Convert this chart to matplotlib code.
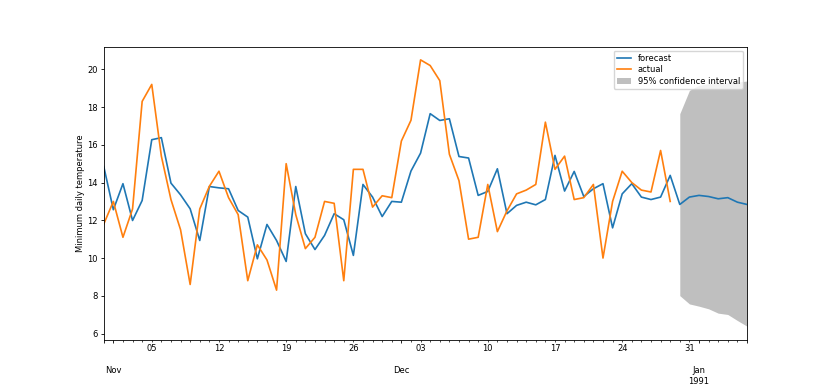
import pandas as pd
import matplotlib
matplotlib.use("Agg")
import matplotlib.pyplot as plt

# Daily minimum temperatures
start = "1990-10-31"

actual = [11.8, 13.0, 11.1, 12.6, 18.3, 19.2, 15.4, 13.1, 11.5, 8.6,
          12.6, 13.8, 14.6, 13.2, 12.3, 8.8, 10.7, 9.9, 8.3, 15.0,
          12.3, 10.5, 11.1, 13.0, 12.9, 8.8, 14.7, 14.7, 12.7, 13.3,
          13.2, 16.2, 17.3, 20.5, 20.2, 19.4, 15.5, 14.1, 11.0, 11.1,
          13.9, 11.4, 12.5, 13.4, 13.6, 13.9, 17.2, 14.7, 15.4, 13.1,
          13.2, 13.9, 10.0, 13.0, 14.6, 14.0, 13.6, 13.5, 15.7, 13.0]

forecast = [14.85, 12.56, 13.94, 11.99, 13.05, 16.27, 16.38, 13.97, 13.35, 12.61,
            10.93, 13.79, 13.72, 13.67, 12.52, 12.17, 9.96, 11.78, 10.93, 9.82,
            13.79, 11.29, 10.45, 11.20, 12.35, 12.03, 10.14, 13.90, 13.23, 12.20,
            13.00, 12.96, 14.61, 15.56, 17.65, 17.29, 17.38, 15.38, 15.30, 13.32,
            13.53, 14.73, 12.35, 12.79, 12.96, 12.82, 13.10, 15.44, 13.55, 14.59,
            13.26, 13.67, 13.94, 11.60, 13.40, 13.94, 13.23, 13.10, 13.23, 14.38,
            12.84, 13.23, 13.32, 13.26, 13.14, 13.20, 12.96, 12.84]

ci_lower = [8.01, 7.57, 7.45, 7.31, 7.08, 7.01, 6.69, 6.39]
ci_upper = [17.65, 18.88, 19.15, 19.24, 19.27, 19.29, 19.32, 19.38]

fc = pd.Series(forecast, index=pd.date_range(start, periods=len(forecast), freq="D"))
act = pd.Series(actual, index=pd.date_range(start, periods=len(actual), freq="D"))
ci_index = fc.index[-len(ci_lower):]

plt.rcParams["font.size"] = 6
plt.rcParams["axes.linewidth"] = 0.6
for ax_name in ("xtick", "ytick"):
    plt.rcParams[ax_name + ".major.size"] = 2.2
    plt.rcParams[ax_name + ".minor.size"] = 1.2
    plt.rcParams[ax_name + ".major.width"] = 0.6
    plt.rcParams[ax_name + ".minor.width"] = 0.5
    plt.rcParams[ax_name + ".major.pad"] = 2.2
    plt.rcParams[ax_name + ".minor.pad"] = 2.2

fig, ax = plt.subplots(figsize=(8.3, 3.88), dpi=100)
fig.subplots_adjust(left=0.125, right=0.9, top=0.88, bottom=0.125)

fc.plot(ax=ax, label="forecast", lw=1.2)
act.plot(ax=ax, label="actual", lw=1.2)
ax.fill_between(ci_index, ci_lower, ci_upper, color="gray", alpha=0.5,
                lw=0, label="95% confidence interval")

ax.set_ylabel("Minimum daily temperature", labelpad=1.5)
ax.legend(loc="upper right", fontsize=6, labelspacing=0.3, borderpad=0.35,
          handlelength=1.7)

plt.savefig("out.png")
